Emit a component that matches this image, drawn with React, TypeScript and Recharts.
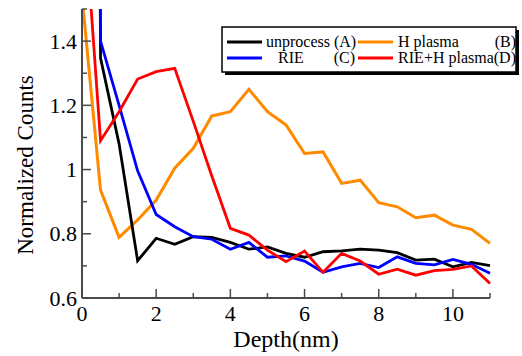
import { LineChart, Line, XAxis, YAxis } from "recharts";

// depth in nm, sampled every 0.5 nm
const depth = [0, 0.5, 1, 1.5, 2, 2.5, 3, 3.5, 4, 4.5, 5, 5.5, 6, 6.5, 7, 7.5, 8, 8.5, 9, 9.5, 10, 10.5, 11];

const unprocess = [12, 1.347, 1.08, 0.716, 0.786, 0.767, 0.791, 0.789, 0.773, 0.752, 0.759, 0.739, 0.727, 0.744, 0.747, 0.752, 0.749, 0.741, 0.718, 0.721, 0.697, 0.711, 0.701];
const hPlasma = [1.54, 0.936, 0.789, 0.843, 0.905, 1.004, 1.066, 1.167, 1.18, 1.25, 1.18, 1.139, 1.05, 1.055, 0.957, 0.967, 0.897, 0.884, 0.85, 0.858, 0.827, 0.814, 0.77];
const rie = [12, 1.4, 1.2, 0.996, 0.86, 0.822, 0.791, 0.783, 0.752, 0.773, 0.727, 0.731, 0.715, 0.68, 0.697, 0.708, 0.695, 0.728, 0.708, 0.703, 0.72, 0.705, 0.677];
const rieHPlasma = [1.9, 1.09, 1.18, 1.282, 1.305, 1.315, 1.15, 0.98, 0.817, 0.796, 0.749, 0.713, 0.746, 0.68, 0.739, 0.715, 0.674, 0.69, 0.671, 0.685, 0.689, 0.7, 0.645];

const xTicks = [0, 1, 2, 3, 4, 5, 6, 7, 8, 9, 10, 11];
const yTicks = [0.6, 0.7, 0.8, 0.9, 1.0, 1.1, 1.2, 1.3, 1.4, 1.5];

const data = depth.map((d, i) => ({
  depth: d,
  a: unprocess[i],
  b: hPlasma[i],
  c: rie[i],
  d: rieHPlasma[i],
}));

const SERIF = { fontFamily: "Liberation Serif, DejaVu Serif, serif" };
const AXIS = "#4a4a4a";
const ORANGE = "#ff8a00";

const isMajorX = (v: number) => Math.round(v) % 2 === 0;
const isMajorY = (v: number) => Math.round(v * 10) % 2 === 0;
const fmtY = (v: number) => String(+v.toFixed(1));

const BottomTick = ({ x, y, payload }: any) => {
  const v = payload.value;
  const major = isMajorX(v);
  return (
    <g>
      <line x1={x} x2={x} y1={y} y2={y - (major ? 9 : 5)} stroke={AXIS} strokeWidth={1.5} />
      {major && (
        <text x={x} y={y + 7} dy="0.71em" textAnchor="middle" style={SERIF} fontSize={22} fill="#000">
          {v}
        </text>
      )}
    </g>
  );
};

const TopTick = ({ x, y, payload }: any) => {
  const major = isMajorX(payload.value);
  return <line x1={x} x2={x} y1={y} y2={y + (major ? 9 : 5)} stroke={AXIS} strokeWidth={1.5} />;
};

const LeftTick = ({ x, y, payload }: any) => {
  const v = payload.value;
  const major = isMajorY(v);
  return (
    <g>
      <line x1={x} x2={x + (major ? 9 : 5)} y1={y} y2={y} stroke={AXIS} strokeWidth={1.5} />
      {major && v < 1.45 && (
        <text x={x - 5} y={y} dy="0.35em" textAnchor="end" style={SERIF} fontSize={22} fill="#000">
          {fmtY(v)}
        </text>
      )}
    </g>
  );
};

const RightTick = ({ x, y, payload }: any) => {
  const major = isMajorY(payload.value);
  return <line x1={x} x2={x - (major ? 9 : 5)} y1={y} y2={y} stroke={AXIS} strokeWidth={1.5} />;
};

const legendRows = [
  [
    { color: "#000", name: "unprocess (A)", nameX: 266, tag: "", tagX: 0 },
    { color: ORANGE, name: "H plasma", nameX: 398, tag: "(B)", tagX: 516 },
  ],
  [
    { color: "#0000ff", name: "RIE", nameX: 278, tag: "(C)", tagX: 355 },
    { color: "#ff0000", name: "", nameX: 0, tag: "RIE+H plasma(D)", tagX: 516 },
  ],
];

export default function App() {
  return (
    <div style={{ position: "absolute", left: 0, top: 0, width: 522, height: 356, background: "#fff" }}>
      <LineChart width={522} height={356} data={data} margin={{ top: 9, right: 32, bottom: 0, left: 0 }}>
        <XAxis
          xAxisId="bottom"
          type="number"
          dataKey="depth"
          domain={[0, 11]}
          ticks={xTicks}
          interval={0}
          height={58}
          tickSize={0}
          tickMargin={0}
          tickLine={false}
          tick={<BottomTick />}
          axisLine={{ stroke: AXIS, strokeWidth: 2 }}
          label={({ viewBox }: any) => (
            <text
              x={viewBox.x + viewBox.width / 2}
              y={viewBox.y + 49}
              textAnchor="middle"
              style={SERIF}
              fontSize={24}
              fill="#000"
            >
              Depth(nm)
            </text>
          )}
        />
        <XAxis
          xAxisId="top"
          orientation="top"
          type="number"
          dataKey="depth"
          domain={[0, 11]}
          ticks={xTicks}
          interval={0}
          height={0}
          tickSize={0}
          tickMargin={0}
          tickLine={false}
          tick={<TopTick />}
          axisLine={{ stroke: AXIS, strokeWidth: 2 }}
        />
        <YAxis
          yAxisId="left"
          type="number"
          domain={[0.6, 1.5]}
          ticks={yTicks}
          interval={0}
          allowDataOverflow
          width={82}
          tickSize={0}
          tickMargin={0}
          tickLine={false}
          tick={<LeftTick />}
          axisLine={{ stroke: AXIS, strokeWidth: 2 }}
          label={({ viewBox }: any) => {
            const cx = 33;
            const cy = viewBox.y + 156;
            return (
              <text
                x={cx}
                y={cy}
                transform={`rotate(-90 ${cx} ${cy})`}
                textAnchor="middle"
                style={SERIF}
                fontSize={23}
                fill="#000"
              >
                Normalized Counts
              </text>
            );
          }}
        />
        <YAxis
          yAxisId="right"
          orientation="right"
          type="number"
          domain={[0.6, 1.5]}
          ticks={yTicks}
          interval={0}
          allowDataOverflow
          width={0}
          tickSize={0}
          tickMargin={0}
          tickLine={false}
          tick={<RightTick />}
          axisLine={{ stroke: AXIS, strokeWidth: 2 }}
        />
        <Line xAxisId="bottom" yAxisId="left" type="linear" dataKey="b" stroke={ORANGE} strokeWidth={3} dot={false} isAnimationActive={false} />
        <Line xAxisId="bottom" yAxisId="left" type="linear" dataKey="a" stroke="#000" strokeWidth={2.8} dot={false} isAnimationActive={false} />
        <Line xAxisId="bottom" yAxisId="left" type="linear" dataKey="c" stroke="#0000ff" strokeWidth={2.8} dot={false} isAnimationActive={false} />
        <Line xAxisId="bottom" yAxisId="left" type="linear" dataKey="d" stroke="#ff0000" strokeWidth={2.8} dot={false} isAnimationActive={false} />
      </LineChart>
      <svg width={522} height={356} style={{ position: "absolute", left: 0, top: 0, pointerEvents: "none" }}>
        <rect x={225} y={30} width={294} height={45} fill="#000" />
        <rect x={222} y={27} width={294} height={45} fill="#fff" stroke="#000" strokeWidth={1.5} />
        {legendRows.map((row, r) => {
          const ly = r === 0 ? 42 : 58;
          return row.map((item, c) => {
            const lx = c === 0 ? 227 : 358;
            return (
              <g key={`${r}-${c}`}>
                <line x1={lx} x2={lx + 35} y1={ly} y2={ly} stroke={item.color} strokeWidth={3} />
                {item.name && (
                  <text x={item.nameX} y={ly + 5} style={SERIF} fontSize={16} fill="#000">
                    {item.name}
                  </text>
                )}
                {item.tag && (
                  <text x={item.tagX} y={ly + 5} textAnchor="end" style={SERIF} fontSize={16} fill="#000">
                    {item.tag}
                  </text>
                )}
              </g>
            );
          });
        })}
      </svg>
    </div>
  );
}
